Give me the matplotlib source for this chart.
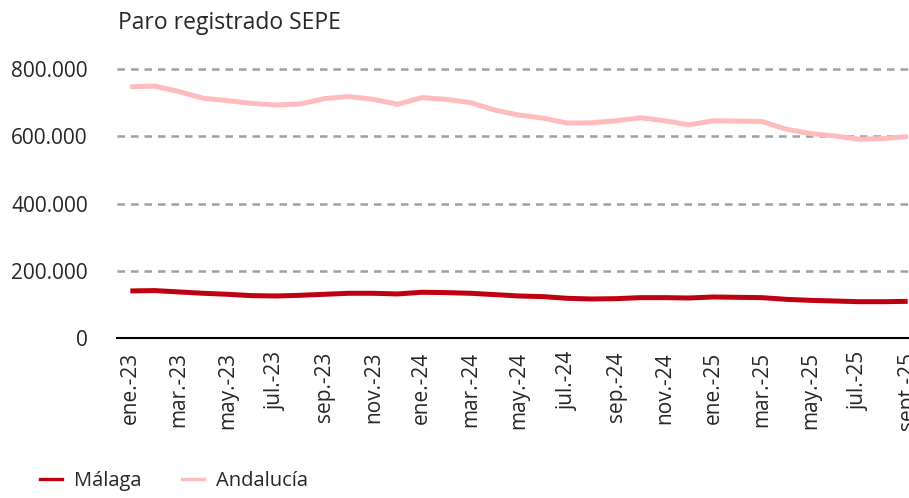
import matplotlib
matplotlib.use("Agg")
from matplotlib import pyplot as plt
from matplotlib.lines import Line2D
from matplotlib.ticker import FuncFormatter

plt.rcParams['font.family'] = ['Open Sans', 'DejaVu Sans']

# monthly data, ene.-23 .. sept.-25
andalucia = [747000, 749000, 733000, 713000, 706000, 698000, 693000, 696000,
             712000, 718000, 710000, 695000, 715000, 710000, 700000, 678000,
             663000, 654000, 639000, 640000, 646000, 655000, 646000, 634000,
             646000, 645000, 644000, 621000, 608000, 601000, 591000, 593000,
             599000]
malaga = [140000, 141000, 137000, 133000, 130000, 126000, 125000, 127000,
          130000, 133000, 133000, 131000, 136000, 135000, 133000, 129000,
          125000, 123000, 118000, 116000, 117000, 120000, 120000, 119000,
          122000, 121000, 120000, 115000, 112000, 110000, 108000, 108000,
          109000]
tick_labels = ['ene.-23', 'mar.-23', 'may.-23', 'jul.-23', 'sep.-23', 'nov.-23',
               'ene.-24', 'mar.-24', 'may.-24', 'jul.-24', 'sep.-24', 'nov.-24',
               'ene.-25', 'mar.-25', 'may.-25', 'jul.-25', 'sept.-25']
y_ticks = [0, 200000, 400000, 600000, 800000]

MALAGA_COL = '#c00010'
ANDALUCIA_COL = '#ffbcbe'
TEXT_COL = '#262626'

fig = plt.figure(figsize=(9.09, 4.98), dpi=100)
ax = fig.add_axes([117 / 909, (498 - 338) / 498, (921 - 117) / 909, 269 / 498])

months = range(len(malaga))
ax.plot(months, malaga, color=MALAGA_COL, lw=3.6, solid_capstyle='butt')
ax.plot(months, andalucia, color=ANDALUCIA_COL, lw=3.6, solid_capstyle='butt')

ax.set_xlim(-0.55, len(malaga) - 0.45)
ax.set_ylim(0, 800000)
ax.set_yticks(y_ticks)
ax.yaxis.set_major_formatter(
    FuncFormatter(lambda v, p: '0' if v == 0 else f'{int(v):,}'.replace(',', '.')))
ax.set_xticks(range(0, len(malaga), 2))
ax.set_xticklabels(tick_labels, rotation=90, va='top')

for v in y_ticks[1:]:
    ax.axhline(v, color='#a0a0a0', lw=1.8, ls=(0, (3.0, 2.4)), zorder=0,
               clip_on=False)
ax.axhline(0, color='black', lw=1.5, zorder=3, clip_on=False)

for s in ax.spines.values():
    s.set_visible(False)
ax.tick_params(length=0, labelsize=15, colors=TEXT_COL)
ax.tick_params(axis='y', pad=21)
ax.tick_params(axis='x', pad=10)

fig.text(118 / 909, 1 - 23 / 498, 'Paro registrado SEPE', fontsize=16.5,
         color=TEXT_COL, va='center', ha='left')

handles = [Line2D([], [], color=MALAGA_COL, lw=2.4),
           Line2D([], [], color=ANDALUCIA_COL, lw=2.4)]
fig.legend(handles, ['Málaga', 'Andalucía'], loc='lower left',
           bbox_to_anchor=(22 / 909, -0.022), ncol=2, frameon=False,
           fontsize=14.5, handlelength=1.1, handletextpad=0.6,
           columnspacing=2.0, labelcolor=TEXT_COL)

fig.savefig('out.png', dpi=100)
